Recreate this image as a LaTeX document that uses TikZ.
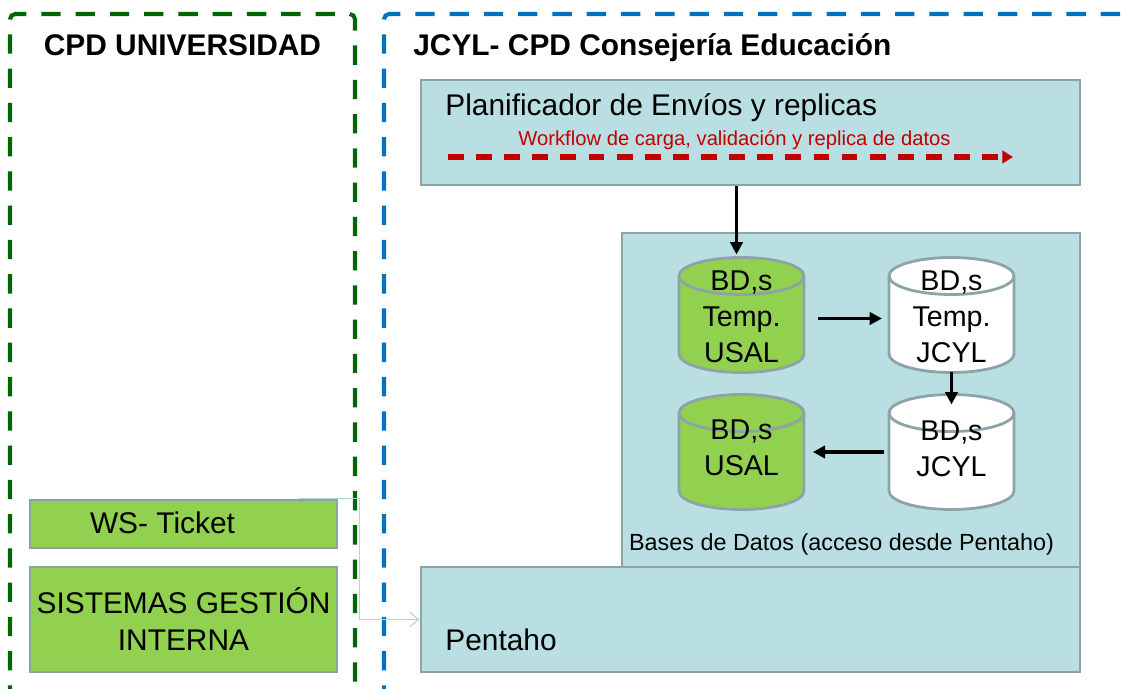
\documentclass[tikz,border=0pt]{standalone}
\usepackage{fontspec}
\setmainfont{Liberation Sans}
\usetikzlibrary{positioning,arrows.meta,calc}
\definecolor{VerdeZona}{RGB}{0,102,0}
\definecolor{AzulZona}{RGB}{0,112,192}
\definecolor{RellenoCaja}{RGB}{186,223,226}
\definecolor{BordeCaja}{RGB}{140,164,167}
\definecolor{VerdeCaja}{RGB}{146,208,80}
\definecolor{RojoFlujo}{RGB}{192,0,0}
\definecolor{Conector}{RGB}{172,216,222}

% Cilindro dibujado alrededor de un nodo ya colocado
\newcommand{\cilindro}[2]{%
  \filldraw[draw=BordeCaja, line width=1.6pt, fill=#2]
    ($(#1.north west)+(0,-0.37)$) -- ($(#1.south west)+(0,0.37)$)
    arc[start angle=180, end angle=360, x radius=1.25, y radius=0.37]
    -- ($(#1.north east)+(0,-0.37)$)
    arc[start angle=0, end angle=180, x radius=1.25, y radius=0.37] -- cycle;
  \draw[BordeCaja, line width=1.6pt] ($(#1.north west)+(0,-0.37)$)
    arc[start angle=180, end angle=360, x radius=1.25, y radius=0.37];
}

\tikzset{
  zona/.style={line width=2.3pt, dash pattern=on 11pt off 8.5pt, rounded corners=3pt},
  texto/.style={inner sep=0pt},
  caja/.style={draw=BordeCaja, line width=1.6pt, fill=RellenoCaja, inner sep=0pt},
  cajaverde/.style={draw=BordeCaja, line width=1.6pt, fill=VerdeCaja, inner sep=0pt,
    align=center, font=\fontsize{17}{21}\selectfont},
  basedatos/.style={inner sep=0pt, outer sep=0pt, minimum width=2.5cm, minimum height=2.3cm},
  textobd/.style={texto, align=center, font=\fontsize{16.3}{20.4}\selectfont},
  flecha/.style={line width=2pt, -{Triangle[length=7pt, width=7pt]}},
}

\begin{document}
\begin{tikzpicture}
    \clip (0, 0) rectangle (22.5, 13.78);

    % Zonas de cada CPD
    \draw[zona, VerdeZona] (0.2, -1) -- (0.2, 13.5) -- (7.1, 13.5) -- (7.1, -1);
    \draw[zona, AzulZona] (7.68, -1) -- (7.68, 13.5) -- (23.5, 13.5);
    \node[texto, anchor=base, font=\bfseries\fontsize{17}{20}\selectfont] (cpdusal)
        at (3.65, 12.67) {CPD UNIVERSIDAD};
    \node[texto, anchor=base west, font=\bfseries\fontsize{17}{20}\selectfont] (cpdjcyl)
        at (8.26, 12.67) {JCYL- CPD Consejería Educación};

    % Cajas de la Consejería
    \node[caja, minimum width=13.18cm, minimum height=2.1cm] (plan) at (15.01, 11.13) {};
    \node[caja, minimum width=9.16cm, minimum height=6.7cm] (bases) at (17.02, 5.77) {};
    \node[caja, minimum width=13.18cm, minimum height=2.1cm] (pentaho) at (15.01, 1.39) {};

    \node[texto, anchor=base west, font=\fontsize{17}{20}\selectfont] (plantxt)
        at (8.9, 11.46) {Planificador de Envíos y replicas};
    \node[texto, anchor=base, text=RojoFlujo, font=\fontsize{11.5}{14}\selectfont] (flujotxt)
        at (14.69, 10.86) {Workflow de carga, validación y replica de datos};
    \coordinate (flujoini) at (8.96, 10.64);
    \coordinate (flujofin) at (20.26, 10.64);
    \draw[RojoFlujo, line width=3pt, dash pattern=on 9pt off 7pt,
        -{Triangle[length=6pt, width=7pt]}] (flujoini) -- (flujofin);

    \node[texto, anchor=base, font=\fontsize{13.3}{16}\selectfont] (basestxt)
        at (16.83, 2.76) {Bases de Datos (acceso desde Pentaho)};
    \node[texto, anchor=base west, font=\fontsize{17}{20}\selectfont] (pentahotxt)
        at (8.9, 0.77) {Pentaho};

    % Bases de datos
    \node[basedatos] (usaltmp) at (14.83, 7.48) {};
    \node[basedatos, right=1.7cm of usaltmp] (jcyltmp) {};
    \node[basedatos, below=0.44cm of usaltmp] (usal) {};
    \node[basedatos, below=0.44cm of jcyltmp] (jcyl) {};
    \cilindro{usaltmp}{VerdeCaja}
    \cilindro{jcyltmp}{white}
    \cilindro{usal}{VerdeCaja}
    \cilindro{jcyl}{white}
    \node[textobd] (usaltmptxt) at ($(usaltmp)+(0, -0.04)$) {BD,s\\Temp.\\USAL};
    \node[textobd] (jcyltmptxt) at ($(jcyltmp)+(0, -0.04)$) {BD,s\\Temp.\\JCYL};
    \node[textobd] (usaltxt) at ($(usal)+(0, 0.08)$) {BD,s\\USAL};
    \node[textobd] (jcyltxt) at ($(jcyl)+(0, 0.06)$) {BD,s\\JCYL};

    \coordinate (entrada) at ($(usaltmp.north)+(-0.1, 0.06)$);
    \draw[flecha] (plan.south -| entrada) -- (entrada);
    \draw[flecha, shorten <=8pt, shorten >=4pt] ([yshift=-2pt]usaltmp.east) -- ([yshift=-2pt]jcyltmp.west);
    \draw[flecha] (jcyltmp.south) -- ($(jcyl.north)+(0, -0.2)$);
    \draw[flecha, shorten <=3pt, shorten >=5pt] (jcyl.west) -- (usal.east);

    % Sistemas de la universidad
    \node[cajaverde, minimum width=6.14cm, minimum height=0.96cm] (ws) at (3.67, 3.30) {};
    \node[texto, anchor=base, font=\fontsize{17}{20}\selectfont] (wstxt) at (3.25, 3.10) {WS- Ticket};
    \node[cajaverde, minimum width=6.14cm, minimum height=2.1cm] (sgi) at (3.67, 1.39)
        {SISTEMAS GESTIÓN\\INTERNA};

    \coordinate (wsout) at ($(ws.north east)+(-0.78, 0)$);
    \draw[Conector, line width=0.6pt, -{Straight Barb[length=5pt, width=8pt]}]
        (wsout) -- ++(1.2, 0) |- (pentaho.west);
\end{tikzpicture}
\end{document}
